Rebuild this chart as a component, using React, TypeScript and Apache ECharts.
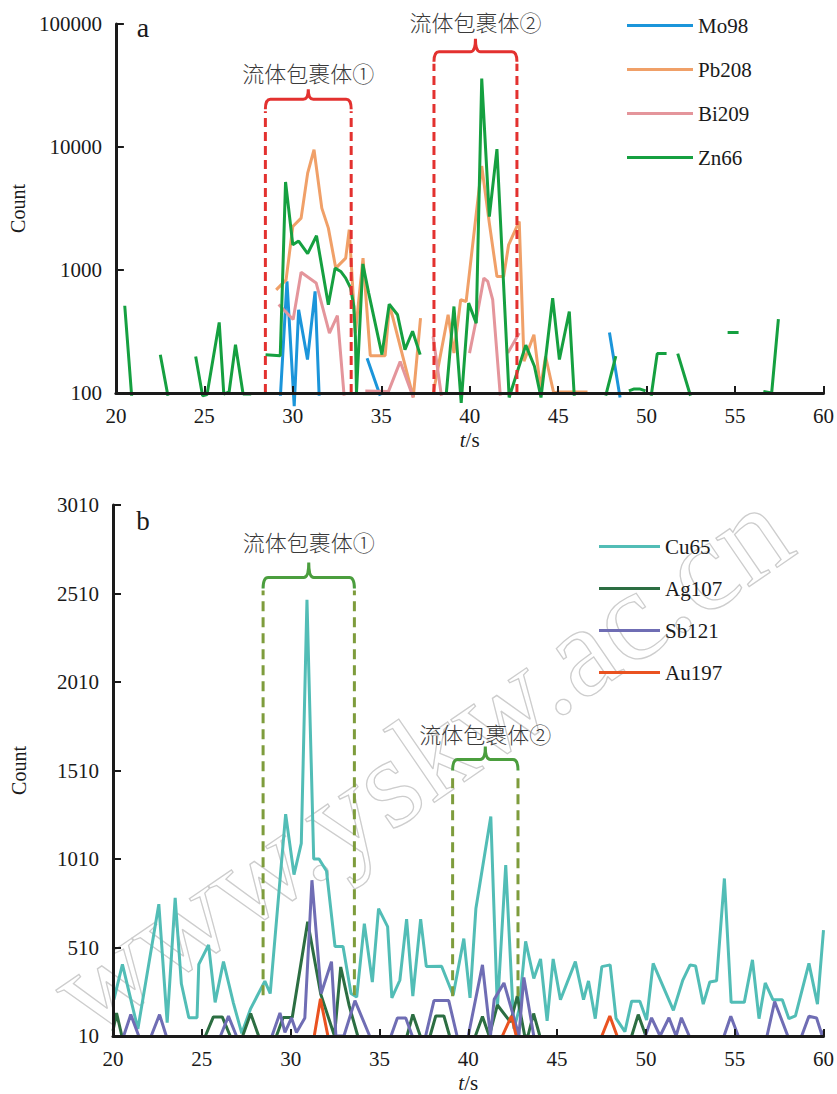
import React, { useEffect, useRef } from "react";
import * as echarts from "echarts";

// ---------- panel a (log scale) : [t (s), count] ----------
const mo98: (number | null)[][] = [
  [29.3, 95], [29.67, 807], [30.08, 78], [30.33, 475], [30.83, 187], [31.26, 670], [31.49, 95], [31.6, null],
  [34.2, 192], [34.94, 95], [35.0, null],
  [47.9, 311], [48.5, 92],
];
const pb208: (number | null)[][] = [
  [29.06, 690], [29.62, 832], [30.0, 2255], [30.47, 2640], [30.84, 6130], [31.2, 9500], [31.64, 3185],
  [32.01, 2190], [32.43, 1035], [32.99, 1250], [33.19, 2130], [33.54, 307], [33.97, 1250], [34.38, 201],
  [35.22, 201], [35.47, 520], [36.81, 92], [37.22, 406], [37.4, null],
  [37.94, 100], [38.78, 432], [39.11, 211], [39.49, 573], [39.8, 555], [40.68, 7000], [41.11, 2405],
  [41.54, 885], [41.92, 885], [42.2, 1603], [42.8, 2480], [43.07, 181], [43.63, 298], [44.0, 110],
  [44.29, 198], [44.75, 100], [45.0, 102], [46.66, 102],
];
const bi209: (number | null)[][] = [
  [29.2, 525], [30.02, 396], [30.47, 960], [31.32, 785], [32.07, 307], [32.52, 426], [32.9, 95], [33.0, null],
  [34.1, 104], [35.41, 103], [36.07, 180], [36.81, 92], [37.0, null],
  [37.93, 288], [38.4, 95], [38.5, null],
  [39.99, 211], [40.37, 394], [40.8, 859], [41.02, 807], [41.3, 573], [41.73, 95], [41.9, null],
  [42.15, 211], [42.8, 307],
];
const zn66: (number | null)[][] = [
  [20.5, 512], [20.89, 95], [21.0, null],
  [22.51, 205], [22.94, 95], [23.0, null],
  [24.51, 198], [24.9, 95], [25.15, 97], [25.84, 375], [26.1, 98], [26.4, 102], [26.76, 247], [27.19, 98],
  [27.65, 98], [27.8, null],
  [28.46, 205], [29.29, 201], [29.59, 5200], [30.0, 1603], [30.33, 1720], [30.84, 1360], [31.34, 1900],
  [32.01, 521], [32.39, 1035], [32.71, 973], [32.99, 860], [33.27, 713], [33.45, 505], [33.54, 288],
  [33.6, 100], [33.96, 1120], [34.29, 649], [35.04, 205], [35.45, 528], [35.92, 433], [36.34, 225],
  [36.77, 318], [37.2, 205], [37.3, null],
  [38.68, 100], [39.11, 505], [39.52, 83], [39.94, 538], [40.37, 370], [40.68, 36000], [41.11, 2720],
  [41.54, 9600], [42.23, 92], [43.17, 245], [43.66, 165], [44.03, 92], [44.69, 591], [45.07, 187],
  [45.63, 460], [45.91, 95], [46.0, null],
  [47.69, 95], [48.26, 199], [48.4, null],
  [49.0, 104], [49.3, 108], [49.6, 108], [49.94, 104], [50.0, null],
  [50.26, 95], [50.6, 209], [51.13, 209], [51.3, null],
  [51.76, 209], [52.48, 95], [52.6, null],
  [54.58, 311], [55.2, 311], [55.3, null],
  [56.6, 103], [57.07, 100], [57.45, 399],
];

// ---------- panel b (linear scale) ----------
const cu65: number[][] = [
  [20.05, 215], [20.53, 415], [21.4, 50], [22.58, 755], [23.05, 85], [23.5, 790], [23.85, 305], [24.27, 113],
  [24.73, 113], [24.83, 415], [25.38, 525], [25.75, 200], [26.22, 430], [26.78, 196], [27.25, 25],
  [27.75, 165], [28.55, 320], [28.85, 250], [29.72, 1263], [30.19, 922], [30.6, 1098], [30.92, 2475],
  [31.3, 1010], [31.6, 1010], [32.02, 942], [32.5, 515], [32.95, 515], [33.4, 250], [33.72, 230],
  [34.15, 645], [34.6, 315], [34.95, 730], [35.46, 628], [35.7, 225], [36.15, 325], [36.53, 670],
  [36.88, 235], [37.32, 670], [37.64, 402], [38.5, 404], [39.15, 240], [39.75, 560], [40.1, 225],
  [40.43, 730], [41.27, 1250], [41.64, 165], [42.11, 975], [42.57, 51], [42.85, 155], [43.23, 545],
  [43.69, 335], [44.07, 445], [44.44, 95], [44.78, 445], [45.19, 215], [46.03, 430], [46.49, 215],
  [46.77, 321], [47.15, 108], [47.52, 402], [47.99, 412], [48.32, 110], [48.82, 35], [49.2, 207],
  [49.66, 207], [50.04, 100], [50.41, 420], [51.55, 155], [52.08, 326], [52.49, 412], [52.8, 405],
  [53.23, 190], [53.6, 315], [53.98, 322], [54.42, 900], [54.8, 200], [55.54, 200], [56.0, 440],
  [56.37, 108], [56.72, 310], [57.15, 215], [57.68, 215], [58.05, 108], [58.42, 124], [59.18, 420],
  [59.66, 190], [60.0, 608],
];
const ag107: (number | null)[][] = [
  [20.0, 40], [20.2, 140], [20.5, 10], [20.6, null],
  [25.2, 10], [25.65, 118], [26.15, 118], [26.6, 10], [26.8, null],
  [27.3, 10], [27.75, 137], [28.2, 10], [28.4, null],
  [29.2, 10], [29.58, 115], [30.09, 115], [30.96, 655], [31.7, 245], [32.47, 10], [32.82, 400],
  [33.3, 180], [33.78, 10], [34.0, null],
  [36.55, 10], [36.88, 132], [37.3, 10], [37.5, null],
  [37.85, 10], [38.17, 123], [38.63, 123], [38.95, 10], [39.2, null],
  [40.4, 10], [40.8, 120], [41.18, 10], [41.64, 185], [42.38, 88], [42.76, 235], [43.18, 10],
  [43.36, 10], [43.68, 137], [44.03, 10], [44.2, null],
  [49.2, 10], [49.57, 131], [50.0, 10],
];
const sb121: (number | null)[][] = [
  [20.6, 10], [21.0, 131], [21.45, 10], [21.6, null],
  [22.15, 10], [22.62, 131], [23.0, 10], [23.2, null],
  [26.05, 10], [26.5, 122], [26.95, 10], [27.1, null],
  [28.95, 10], [29.4, 140], [29.68, 30], [30.05, 112], [30.33, 30], [30.8, 112], [31.2, 890],
  [31.72, 250], [32.3, 430], [32.55, 10], [33.0, 10], [33.62, 210], [34.45, 10], [34.6, null],
  [35.65, 10], [36.01, 112], [36.48, 112], [36.85, 10], [37.0, null],
  [37.6, 10], [38.07, 210], [38.9, 210], [39.37, 10], [39.5, null],
  [40.0, 10], [40.8, 412], [41.25, 10], [41.46, 217], [42.01, 310], [42.57, 114], [42.85, 10],
  [43.13, 341], [43.69, 10], [43.9, null],
  [49.97, 10], [50.32, 113], [50.8, 10], [51.3, 113], [51.7, 10], [52.0, 113], [52.44, 10], [52.6, null],
  [54.4, 10], [54.78, 122], [55.2, 10], [55.4, null],
  [56.82, 10], [57.25, 205], [57.99, 10], [58.2, null],
  [58.77, 10], [59.18, 122], [59.61, 112], [59.93, 10], [60.0, 40],
];
const au197: (number | null)[][] = [
  [31.33, 10], [31.68, 220], [32.1, 10], [32.3, null],
  [41.92, 10], [42.43, 123], [42.7, 10], [42.9, null],
  [47.52, 10], [47.97, 123], [48.38, 10],
];

// ---------- annotations ----------
const bracketLabels = ["流体包裹体①", "流体包裹体②"];
const bracketStartA = [28.45, 37.98];
const bracketEndA = [33.3, 42.67];
const bracketBaseA = [100, 100];
const bracketLevelA = [24400, 59600];
const bracketStartB = [28.45, 39.12];
const bracketEndB = [33.59, 42.8];
const bracketBaseB = [240, 235];
const bracketLevelB = [2601, 1572];

const xTicks = { min: 20, max: 60, interval: 5 };
const yTicksB = [10, 510, 1010, 1510, 2010, 2510, 3010];
const legendA = ["Mo98", "Pb208", "Bi209", "Zn66"];
const legendB = ["Cu65", "Ag107", "Sb121", "Au197"];
const watermark = "www.yskw.ac.cn";

const SERIF = "'Liberation Serif', 'Times New Roman', serif";
const CJK = "'Noto Sans CJK SC', sans-serif";
const INK = "#1a1a1a";

function bracketSeries(
  gridIdx: number, starts: number[], ends: number[], bases: number[], levels: number[],
  dashColor: string, braceColor: string, dash: number[], curl: number, peaks: number[], labelOffs: number[]
) {
  return {
    type: "custom",
    name: "bracket" + gridIdx,
    xAxisIndex: gridIdx,
    yAxisIndex: gridIdx,
    clip: false,
    silent: true,
    z: 4,
    data: starts.map((s, i) => [s, ends[i], bases[i], levels[i]]),
    renderItem: (params: any, api: any) => {
      const i = params.dataIndex;
      const x1 = api.value(0), x2 = api.value(1), yb = api.value(2), yl = api.value(3);
      const pL = api.coord([x1, yl]);
      const pR = api.coord([x2, yl]);
      const bL = api.coord([x1, yb]);
      const bR = api.coord([x2, yb]);
      const y = pL[1];
      const r = 5;
      const peak = peaks[i];
      const xc = (pL[0] + pR[0]) / 2;
      const d =
        `M${pL[0]},${y + curl} Q${pL[0]},${y} ${pL[0] + r},${y} L${xc - r},${y} ` +
        `Q${xc},${y} ${xc},${y - peak} Q${xc},${y} ${xc + r},${y} L${pR[0] - r},${y} ` +
        `Q${pR[0]},${y} ${pR[0]},${y + curl}`;
      return {
        type: "group",
        children: [
          { type: "line", shape: { x1: bL[0], y1: bL[1], x2: pL[0], y2: y + curl + 2 },
            style: { stroke: dashColor, lineWidth: 3, lineDash: dash } },
          { type: "line", shape: { x1: bR[0], y1: bR[1], x2: pR[0], y2: y + curl + 2 },
            style: { stroke: dashColor, lineWidth: 3, lineDash: dash } },
          { type: "path", shape: { pathData: d },
            style: { stroke: braceColor, lineWidth: 3, fill: null } },
          { type: "text", x: xc, y: y - labelOffs[i],
            style: { text: bracketLabels[i], fontSize: 22, fontFamily: CJK, fontWeight: 300,
              fill: "#3a3a3a", align: "center", verticalAlign: "middle" } },
        ],
      };
    },
  };
}

function xAxisDef(gridIndex: number) {
  return {
    gridIndex, type: "value", ...xTicks, z: 5,
    axisLine: { onZero: false, lineStyle: { color: INK, width: 3 } },
    axisTick: { inside: true, length: 7, lineStyle: { color: INK, width: 2 } },
    axisLabel: { margin: 12, fontSize: 21, fontFamily: SERIF, color: INK },
    splitLine: { show: false },
    name: "{i|t}/s", nameLocation: "middle", nameGap: 36,
    nameTextStyle: { fontSize: 21, fontFamily: SERIF, color: INK,
      rich: { i: { fontStyle: "italic", fontSize: 21, fontFamily: SERIF, color: INK } } },
  };
}

function line(name: string, data: any[], color: string, gi: number, clip: boolean) {
  return {
    type: "line", name, data, xAxisIndex: gi, yAxisIndex: gi,
    showSymbol: false, symbol: "none", clip, z: 2,
    lineStyle: { color, width: 3 }, itemStyle: { color },
  };
}

export default function App() {
  const ref = useRef<HTMLDivElement>(null);
  useEffect(() => {
    if (!ref.current) return;
    const chart = echarts.init(ref.current, undefined, { renderer: "svg" });
    const yBase = {
      z: 5,
      axisLine: { onZero: false, lineStyle: { color: INK, width: 3 } },
      axisTick: { inside: true, length: 8, lineStyle: { color: INK, width: 2 } },
      splitLine: { show: false },
      name: "Count", nameLocation: "middle", nameRotate: 90, nameGap: 84,
      nameTextStyle: { fontSize: 20, fontFamily: SERIF, color: INK },
    };
    const legendBase = {
      orient: "vertical", icon: "rect", itemHeight: 3,
      textStyle: { fontSize: 21, fontFamily: SERIF, color: INK },
    };
    chart.setOption({
      animation: false,
      backgroundColor: "#ffffff",
      grid: [
        { left: 113, right: 11, top: 24, height: 369 },
        { left: 113, right: 7, top: 505, height: 533 },
      ],
      xAxis: [xAxisDef(0), xAxisDef(1)],
      yAxis: [
        { ...yBase, gridIndex: 0, type: "log", logBase: 10, min: 100, max: 100000,
          axisLabel: { margin: 14, fontSize: 21, fontFamily: SERIF, color: INK,
            formatter: (v: number) => String(Math.round(v)) } },
        { ...yBase, gridIndex: 1, type: "value", min: 10, max: 3010,
          axisTick: { ...yBase.axisTick, customValues: yTicksB },
          axisLabel: { margin: 14, fontSize: 21, fontFamily: SERIF, color: INK,
            customValues: yTicksB, formatter: (v: number) => String(v) } },
      ],
      legend: [
        { ...legendBase, data: legendA, left: 622, top: 10, itemWidth: 66, itemGap: 23 },
        { ...legendBase, data: legendB, left: 594, top: 531, itemWidth: 61, itemGap: 21 },
      ],
      graphic: [
        { type: "text", x: 420, y: 760, rotation: 0.6, z: -10, silent: true,
          style: { text: watermark, fontSize: 128, fontFamily: SERIF, fill: "rgba(255,255,255,0)",
            stroke: "#cdcdcd", lineWidth: 1.3, align: "center", verticalAlign: "middle" } },
        { type: "text", x: 143, y: 27, style: { text: "a", fontSize: 28, fontFamily: SERIF, fill: INK,
          align: "center", verticalAlign: "middle" } },
        { type: "text", x: 143, y: 521, style: { text: "b", fontSize: 27, fontFamily: SERIF, fill: INK,
          align: "center", verticalAlign: "middle" } },
      ],
      series: [
        line("Mo98", mo98, "#1b95da", 0, false),
        line("Pb208", pb208, "#f0a068", 0, false),
        line("Bi209", bi209, "#e4959b", 0, false),
        line("Zn66", zn66, "#15a040", 0, false),
        line("Cu65", cu65, "#52bdb6", 1, true),
        line("Ag107", ag107, "#2c6e42", 1, true),
        line("Sb121", sb121, "#6f6db4", 1, true),
        line("Au197", au197, "#ea5220", 1, true),
        bracketSeries(0, bracketStartA, bracketEndA, bracketBaseA, bracketLevelA,
          "#e3312f", "#e3312f", [9, 5], 10, [10, 13], [27, 31]),
        bracketSeries(1, bracketStartB, bracketEndB, bracketBaseB, bracketLevelB,
          "#7e9c3c", "#4b9e3e", [10, 6], 11, [15, 13], [36, 27]),
      ],
    });
    return () => chart.dispose();
  }, []);
  return (
    <div
      ref={ref}
      style={{ position: "absolute", left: 0, top: 0, width: 837, height: 1094, background: "#fff" }}
    />
  );
}
